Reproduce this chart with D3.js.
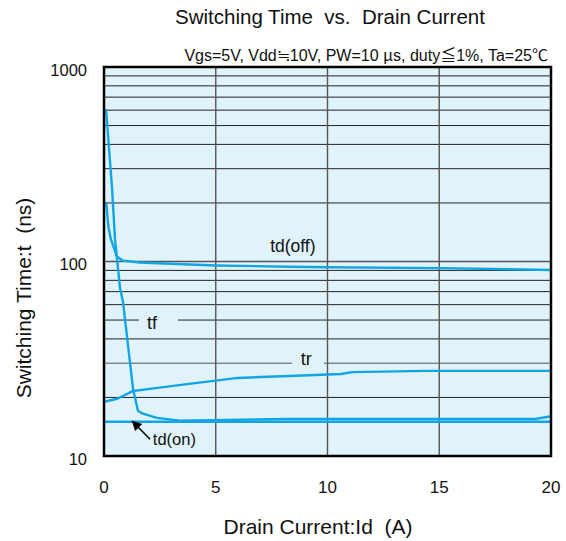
<!DOCTYPE html>
<html>
<head>
<meta charset="utf-8">
<script src="https://cdn.jsdelivr.net/npm/d3@7"></script>
<style>
  body { margin: 0; background: #fff; }
  svg text { font-family: "Liberation Sans", Arial, Helvetica, sans-serif; fill: #111; }
  svg tspan.cjk { font-family: "Noto Sans CJK JP", sans-serif; }
</style>
</head>
<body>
<svg id="chart" width="566" height="541"></svg>
<script>
// values (Id in A, t in ns)
const tdOff = [[0.1, 200], [0.2, 150], [0.3, 131], [0.58, 106], [0.85, 101], [1.6, 98.8], [5, 95.4], [8.3, 94], [10, 93.5], [15, 92.5], [20, 90.5]];
const tf    = [[0.09, 607], [0.18, 446], [0.36, 238], [0.49, 131], [0.72, 72.6], [0.85, 62], [1.16, 30.5], [1.3, 22.1], [1.52, 17.1], [1.74, 16.5], [2.37, 15.7], [3.4, 15.2], [8.3, 15.5], [19.3, 15.5], [20, 16]];
const tr    = [[0, 19], [0.6, 19.7], [1.3, 21.6], [2.4, 22.4], [3.8, 23.5], [5, 24.4], [6, 25.2], [8.3, 25.8], [10.6, 26.4], [11.1, 27], [14.4, 27.4], [20, 27.4]];
const tdOn  = [[0, 15], [20, 15]];

const xTicks = [0, 5, 10, 15, 20];
const yMajor = [10, 100, 1000];
const yMinor = [20, 30, 40, 50, 60, 70, 80, 90, 200, 300, 400, 500, 600, 700, 800, 900];

// curve labels: [text, Id, t at baseline, font size]
const labels = [["td(off)", 8.45, 112, 17.5], ["tf", 2.15, 45, 18], ["tr", 9.05, 29.4, 18], ["td(on)", 3.15, 11.4, 16.5]];
// arrow pointing at td(on): [from, to] as [Id, t]
const arrow = [[2.06, 12.2], [1.27, 15.1]];

const svg = d3.select("#chart");
const L = 104, R = 551, T = 67, B = 456;

const x = d3.scaleLinear().domain([0, 20]).range([L, R]);
const y = d3.scaleLog().domain([10, 1000]).range([B, T]);

svg.append("rect").attr("x", L).attr("y", T).attr("width", R - L).attr("height", B - T)
  .attr("fill", "#e0f3fb");

// horizontal grid; tf and tr labels sit in gaps of the 50 and 30 lines
const gaps = { 50: [139, 178], 30: [292, 324] };
yMinor.concat([100]).forEach(v => {
  const segs = gaps[v] ? [[L, gaps[v][0]], [gaps[v][1], R]] : [[L, R]];
  segs.forEach(([a, b]) => {
    svg.append("line").attr("x1", a).attr("x2", b).attr("y1", y(v)).attr("y2", y(v))
      .attr("stroke", v === 100 || v === 30 ? "#555" : "#222").attr("stroke-width", v === 100 ? 1.4 : 1);
  });
});

// vertical grid
svg.selectAll("line.vg").data(xTicks.slice(1, -1)).join("line").attr("class", "vg")
  .attr("x1", d => x(d)).attr("x2", d => x(d)).attr("y1", T).attr("y2", B)
  .attr("stroke", "#555").attr("stroke-width", 1.4);

// curves
const line = d3.line().x(d => x(d[0])).y(d => y(d[1]));
[tdOff, tf, tr, tdOn].forEach(s => {
  svg.append("path").datum(s).attr("d", line)
    .attr("fill", "none").attr("stroke", "#12a5e3").attr("stroke-width", 2.4)
    .attr("stroke-linejoin", "round");
});

// frame
svg.append("rect").attr("x", L).attr("y", T).attr("width", R - L).attr("height", B - T)
  .attr("fill", "none").attr("stroke", "#000").attr("stroke-width", 2.5);

// tick labels
svg.selectAll("text.yt").data(yMajor).join("text").attr("class", "yt")
  .attr("x", 87).attr("y", d => y(d) + 8.5)
  .attr("text-anchor", "end").attr("font-size", 16.5).text(d => d);
svg.selectAll("text.xt").data(xTicks).join("text").attr("class", "xt")
  .attr("x", d => x(d)).attr("y", 493)
  .attr("text-anchor", "middle").attr("font-size", 17).text(d => d);

// curve labels
svg.selectAll("text.cl").data(labels).join("text").attr("class", "cl")
  .attr("x", d => x(d[1])).attr("y", d => y(d[2]))
  .attr("text-anchor", "middle").attr("font-size", d => d[3]).text(d => d[0]);

// arrow to td(on)
svg.append("defs").append("marker").attr("id", "ah").attr("viewBox", "0 0 10 10")
  .attr("refX", 9).attr("refY", 5).attr("markerWidth", 12).attr("markerHeight", 10)
  .attr("markerUnits", "userSpaceOnUse").attr("orient", "auto")
  .append("path").attr("d", "M0,0L10,5L0,10Z").attr("fill", "#000");
svg.append("line")
  .attr("x1", x(arrow[0][0])).attr("y1", y(arrow[0][1]))
  .attr("x2", x(arrow[1][0])).attr("y2", y(arrow[1][1]))
  .attr("stroke", "#000").attr("stroke-width", 1.6).attr("marker-end", "url(#ah)");

// titles
svg.append("text").attr("x", 330).attr("y", 24).attr("text-anchor", "middle")
  .attr("font-size", 20.5).attr("xml:space", "preserve").text("Switching Time  vs.  Drain Current");

const sub = svg.append("text").attr("x", 548).attr("y", 61).attr("text-anchor", "end")
  .attr("font-size", 16).attr("xml:space", "preserve");
[["Vgs=5V, Vdd", 0], ["≒", 1], ["10V, PW=10 ", 0], ["μ", 1], ["s, duty", 0], ["≦", 1], ["1%, Ta=25", 0], ["℃", 1]]
  .forEach(([t, c]) => sub.append("tspan").attr("class", c ? "cjk" : null).text(t));

svg.append("text").attr("x", 318).attr("y", 534).attr("text-anchor", "middle")
  .attr("font-size", 21).attr("xml:space", "preserve").text("Drain Current:Id  (A)");
svg.append("text").attr("transform", "translate(31,298) rotate(-90)").attr("text-anchor", "middle")
  .attr("font-size", 21).attr("xml:space", "preserve").text("Switching Time:t  (ns)");
</script>
</body>
</html>
